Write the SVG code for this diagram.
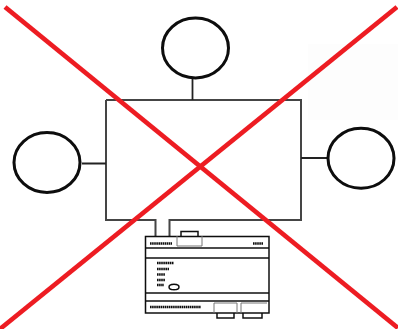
<svg xmlns="http://www.w3.org/2000/svg" width="398" height="329" viewBox="0 0 398 329">
<defs><filter id="soft" x="-5%" y="-5%" width="110%" height="110%"><feGaussianBlur stdDeviation="0.45"/></filter></defs>
<style>
g{filter:url(#soft)}
.c{fill:#fff;stroke:#0a0a0a;stroke-width:3}
.w{fill:none;stroke:#444;stroke-width:2}
.l{fill:none;stroke:#222;stroke-width:1.8}
.b{fill:none;stroke:#111;stroke-width:1.5}
.t{fill:none;stroke:#777;stroke-width:1}
.d{fill:none;stroke:#111;stroke-width:2.6;stroke-dasharray:1.6 .5}
.x{fill:none;stroke:#ed1c24;stroke-width:4.800}
</style>
<rect width="398" height="329" fill="#fff"/>
<rect x="308" y="44" width="90" height="76" fill="#fdfdfd"/>
<g id="connectors">
<path class="w" d="M106 100H301V220H169.500V236M106 100V220H155.500V236"/>
<path class="l" d="M192.500 79V100M82 163.500H106M301 158H327"/>
</g>
<g id="node-top"><ellipse class="c" cx="195.500" cy="48" rx="33" ry="30"/></g>
<g id="node-left"><ellipse class="c" cx="47" cy="162.500" rx="33" ry="30"/></g>
<g id="node-right"><ellipse class="c" cx="361" cy="158.300" rx="33" ry="30"/></g>
<g id="node-device">
<path class="b" fill="#fff" d="M145.500 236.500H269V313H145.500Z"/>
<path class="b" d="M145.500 248H269M145.500 258H269M145.500 293H269M145.500 301H269M181 236V231.500H198V236"/>
<path class="t" d="M177 236V246H202V236M214 303H237V313M241 303H267M214 303V313M241 303V313"/>
<path class="b" d="M217 313V318H234V313M243 313V318H262V313"/>
<path class="d" d="M150 243.500H172M253 243.500H263M157 263H174M157 269H169M157 274.500H165M157 280H165M157 285H164M150 307H201"/>
<ellipse class="b" cx="174" cy="287" rx="5" ry="2.800"/>
</g>
<g id="cross">
<path class="x" d="M5 7L398 328"/>
<path class="x" d="M397 7L0 329"/>
</g>
</svg>
